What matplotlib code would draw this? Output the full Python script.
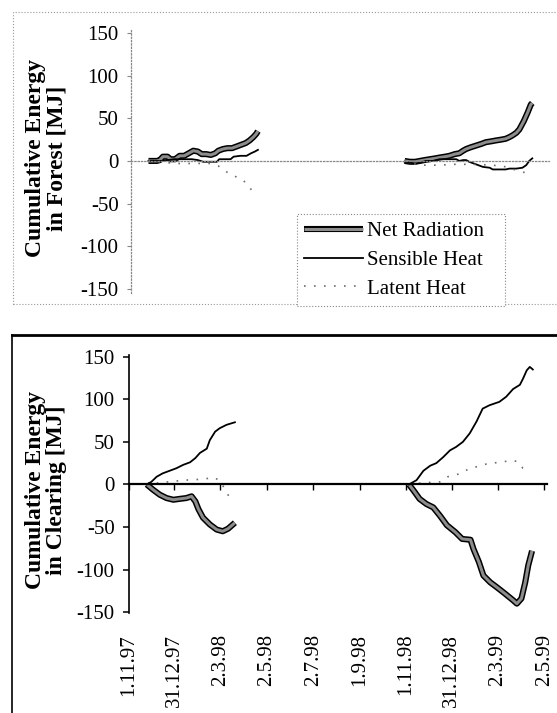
import matplotlib

matplotlib.use("Agg")
import matplotlib.pyplot as plt
import numpy as np
from matplotlib.legend_handler import HandlerTuple
from matplotlib.lines import Line2D
from matplotlib.patches import Rectangle

plt.rcParams["font.family"] = ["Liberation Serif", "DejaVu Serif"]
plt.rcParams["axes.unicode_minus"] = False

# --- forest, winter 97/98 ---
f_net1_d = ["1997-11-24", "1997-12-05", "1997-12-09", "1997-12-13", "1997-12-19", "1997-12-23",
            "1997-12-29", "1998-01-04", "1998-01-10", "1998-01-16", "1998-01-22", "1998-01-28",
            "1998-02-02", "1998-02-08", "1998-02-14", "1998-02-20", "1998-02-24", "1998-03-02",
            "1998-03-08", "1998-03-14", "1998-03-20", "1998-03-26", "1998-04-01", "1998-04-06",
            "1998-04-11", "1998-04-15", "1998-04-17"]
f_net1 = [0, 0, 1, 5, 5, 2, 2, 6, 6, 9, 12, 11, 8, 8, 7, 9, 12, 14, 15, 15, 17, 19, 21, 24, 28, 32, 35]

f_sen1_d = ["1997-11-24", "1997-12-10", "1997-12-20", "1997-12-28", "1998-01-10", "1998-01-20",
            "1998-01-28", "1998-02-04", "1998-02-14", "1998-02-22", "1998-02-25", "1998-03-05",
            "1998-03-12", "1998-03-16", "1998-03-25", "1998-04-02", "1998-04-08", "1998-04-13",
            "1998-04-17"]
f_sen1 = [0, 0, 1, 2, 2, 2, 1, -1, -1, -1, 2, 2, 2, 5, 6, 6, 9, 11, 13]

f_lat1_d = ["1997-11-24", "1997-12-10", "1997-12-28", "1998-01-20", "1998-02-13", "1998-02-24",
            "1998-03-07", "1998-03-20", "1998-03-29", "1998-04-06", "1998-04-13"]
f_lat1 = [0, -1, -3, -3, -3, -6, -13, -19, -23, -31, -40]

# --- forest, winter 98/99 ---
f_net2_d = ["1998-10-27", "1998-11-03", "1998-11-10", "1998-11-16", "1998-11-22", "1998-11-29",
            "1998-12-06", "1998-12-12", "1998-12-19", "1998-12-25", "1999-01-01", "1999-01-07",
            "1999-01-12", "1999-01-16", "1999-01-22", "1999-01-29", "1999-02-05", "1999-02-11",
            "1999-02-18", "1999-02-24", "1999-03-03", "1999-03-09", "1999-03-14", "1999-03-18",
            "1999-03-23", "1999-03-27", "1999-04-02", "1999-04-07", "1999-04-11", "1999-04-13"]
f_net2 = [0, -1, -1, 0, 1, 2, 3, 4, 5, 6, 8, 9, 12, 14, 16, 18, 20, 22, 23, 24, 25, 26, 28, 30,
          33, 37, 47, 57, 66, 68]

f_sen2_d = ["1998-10-27", "1998-11-03", "1998-11-10", "1998-11-17", "1998-11-24", "1998-12-03",
            "1998-12-12", "1998-12-22", "1999-01-03", "1999-01-07", "1999-01-12", "1999-01-16",
            "1999-01-20", "1999-01-29", "1999-02-07", "1999-02-16", "1999-02-20", "1999-03-01",
            "1999-03-09", "1999-03-14", "1999-03-23", "1999-03-31", "1999-04-05", "1999-04-09",
            "1999-04-13"]
f_sen2 = [-1, -2, -3, -2, 0, 0, 2, 2, 2, 0, 1, 1, -1, -4, -7, -8, -10, -10, -10, -9, -9, -8, -5, 0, 3]

f_lat2_d = ["1998-10-27", "1998-11-05", "1998-11-20", "1998-12-10", "1999-01-01", "1999-01-25",
            "1999-02-20", "1999-03-10", "1999-03-26", "1999-04-10"]
f_lat2 = [0, -3, -5, -5, -4, -4, -5, -7, -12, -15]

# --- clearing, winter 97/98 ---
c_net1_d = ["1997-11-25", "1997-12-03", "1997-12-12", "1997-12-21", "1997-12-30", "1998-01-07",
            "1998-01-16", "1998-01-23", "1998-01-28", "1998-02-01", "1998-02-07", "1998-02-16",
            "1998-02-25", "1998-03-05", "1998-03-12", "1998-03-21"]
c_net1 = [0, -6, -12, -16, -18, -17, -16, -14, -20, -29, -39, -47, -53, -55, -52, -45]

c_sen1_d = ["1997-11-25", "1997-12-01", "1997-12-08", "1997-12-16", "1997-12-25", "1998-01-03",
            "1998-01-12", "1998-01-21", "1998-01-28", "1998-02-03", "1998-02-12", "1998-02-16",
            "1998-02-23", "1998-03-01", "1998-03-10", "1998-03-21"]
c_sen1 = [0, 3, 9, 13, 16, 19, 23, 26, 31, 37, 42, 52, 62, 66, 70, 73]

c_lat1_d = ["1997-11-25", "1997-12-12", "1998-01-14", "1998-02-03", "1998-02-23", "1998-03-03",
            "1998-03-08", "1998-03-15"]
c_lat1 = [0, 2, 5, 6, 8, 2, -6, -17]

# --- clearing, winter 98/99 ---
c_net2_d = ["1998-11-05", "1998-11-11", "1998-11-19", "1998-11-28", "1998-12-07", "1998-12-16",
            "1998-12-25", "1999-01-05", "1999-01-14", "1999-01-25", "1999-01-29", "1999-02-05",
            "1999-02-11", "1999-02-20", "1999-03-01", "1999-03-11", "1999-03-22", "1999-03-27",
            "1999-04-02", "1999-04-07", "1999-04-11", "1999-04-16"]
c_net2 = [0, -7, -17, -23, -27, -37, -48, -56, -64, -65, -76, -91, -107, -115, -121, -128, -136,
          -140, -134, -115, -95, -78]

c_sen2_d = ["1998-11-05", "1998-11-15", "1998-11-24", "1998-12-03", "1998-12-11", "1998-12-20",
            "1998-12-29", "1999-01-06", "1999-01-15", "1999-01-24", "1999-02-02", "1999-02-10",
            "1999-02-19", "1999-03-04", "1999-03-13", "1999-03-22", "1999-03-31", "1999-04-04",
            "1999-04-09", "1999-04-13", "1999-04-17"]
c_sen2 = [0, 5, 16, 22, 25, 32, 40, 44, 50, 60, 74, 89, 93, 97, 103, 112, 117, 124, 134, 138, 135]

c_lat2_d = ["1998-11-05", "1998-11-25", "1998-12-16", "1998-12-26", "1999-01-13", "1999-01-22",
            "1999-02-15", "1999-03-20", "1999-03-28", "1999-04-04", "1999-04-10"]
c_lat2 = [0, 2, 3, 9, 13, 18, 24, 28, 27, 19, 18]

tick_dates = ["1997-11-01", "1997-12-31", "1998-03-02", "1998-05-02", "1998-07-02",
              "1998-09-01", "1998-11-01", "1998-12-31", "1999-03-02", "1999-05-02"]
tick_labels = ["1.11.97", "31.12.97", "2.3.98", "2.5.98", "2.7.98",
               "1.9.98", "1.11.98", "31.12.98", "2.3.99", "2.5.99"]
y_ticks = [-150, -100, -50, 0, 50, 100, 150]

W, H = 557, 713
xlim = (np.datetime64("1997-11-01"), np.datetime64("1999-05-05"))
NET_OUT = dict(color="black", lw=4.4, solid_capstyle="butt")
NET_IN = dict(color="#8c8c8c", lw=2.2, solid_capstyle="butt")
SEN = dict(color="black", lw=1.3)
LAT = dict(color="#6e6e6e", lw=1.2, linestyle=(0, (1, 5)))


def d(lst):
    return np.array(lst, dtype="datetime64[D]")


def draw(ax, net, sen, lat):
    for dates, vals in net:
        ax.plot(d(dates), vals, **NET_OUT)
        ax.plot(d(dates), vals, **NET_IN)
    for dates, vals in sen:
        ax.plot(d(dates), vals, **SEN)
    for dates, vals in lat:
        ax.plot(d(dates), vals, **LAT)


fig = plt.figure(figsize=(W / 100, H / 100), dpi=100)

# top panel: forest
ax1 = fig.add_axes([131 / W, 1 - 293 / H, 418 / W, 265 / H])
draw(ax1, [(f_net1_d, f_net1), (f_net2_d, f_net2)],
     [(f_sen1_d, f_sen1), (f_sen2_d, f_sen2)],
     [(f_lat1_d, f_lat1), (f_lat2_d, f_lat2)])
ax1.set_xlim(xlim)
ax1.set_ylim(-155, 156)
ax1.set_yticks(y_ticks)
ax1.set_xticks([])
for s in ["top", "right"]:
    ax1.spines[s].set_visible(False)
ax1.spines["left"].set(linestyle=":", color="#888888", lw=0.9)
ax1.spines["bottom"].set_position(("data", 0))
ax1.spines["bottom"].set(linestyle=":", color="#888888", lw=0.9)
ax1.tick_params(axis="y", direction="out", length=3, color="#888888", labelsize=15, pad=6)

# bottom panel: clearing
ax2 = fig.add_axes([128.5 / W, 1 - 613 / H, 418 / W, 258 / H])
draw(ax2, [(c_net1_d, c_net1), (c_net2_d, c_net2)],
     [(c_sen1_d, c_sen1), (c_sen2_d, c_sen2)],
     [(c_lat1_d, c_lat1), (c_lat2_d, c_lat2)])
ax2.set_xlim(xlim)
ax2.set_ylim(-151, 152)
ax2.set_yticks(y_ticks)
for s in ["top", "right"]:
    ax2.spines[s].set_visible(False)
ax2.spines["left"].set(color="black", lw=1.2)
ax2.spines["bottom"].set_position(("data", 0))
ax2.spines["bottom"].set(color="black", lw=1.6)
ax2.tick_params(axis="y", direction="out", length=4, width=1.1, labelsize=15, pad=6)
ax2.set_xticks(d(tick_dates))
ax2.tick_params(axis="x", direction="out", length=4, width=1, labelbottom=False)

# date labels sit below the plotting area, not on the zero line
sec = ax2.secondary_xaxis("bottom")
sec.set_xticks(d(tick_dates), tick_labels)
sec.spines["bottom"].set_visible(False)
sec.tick_params(axis="x", length=0, pad=15, labelrotation=90, labelsize=15)

# y labels
fig.text(46 / W, 1 - 158 / H, "Cumulative Energy\nin Forest [MJ]", rotation=90,
         ha="center", va="center", fontsize=17, fontweight="bold", linespacing=1.0)
fig.text(46 / W, 1 - 490 / H, "Cumulative Energy\nin Clearing [MJ]", rotation=90,
         ha="center", va="center", fontsize=17, fontweight="bold", linespacing=1.0)

# legend
h_net = (Line2D([], [], **NET_OUT), Line2D([], [], **NET_IN))
h_sen = Line2D([], [], **SEN)
h_lat = Line2D([], [], **LAT)
leg = fig.legend([h_net, h_sen, h_lat], ["Net Radiation", "Sensible Heat", "Latent Heat"],
                 handler_map={tuple: HandlerTuple(ndivide=1, pad=0)},
                 loc="upper left", bbox_to_anchor=(297 / W, 1 - 302 / H, 208 / W, 88 / H),
                 mode="expand", borderaxespad=0,
                 fontsize=15, handlelength=2.8, handletextpad=0.2, labelspacing=0.45,
                 borderpad=0.35, fancybox=False, framealpha=1)
leg.get_frame().set(linestyle=":", edgecolor="#888888", lw=0.8)

# scanned page frames
fig.patches.append(Rectangle((13 / W, 1 - 304 / H), (W - 10) / W, 292 / H, transform=fig.transFigure,
                             fill=False, linestyle=":", edgecolor="#999999", lw=0.8, zorder=0))
fig.add_artist(Line2D([12 / W, 1], [1 - 335 / H, 1 - 335 / H], color="black", lw=2))
fig.add_artist(Line2D([12 / W, 12 / W], [0, 1 - 335 / H], color="black", lw=1.2))

fig.savefig("out.png", dpi=100)
